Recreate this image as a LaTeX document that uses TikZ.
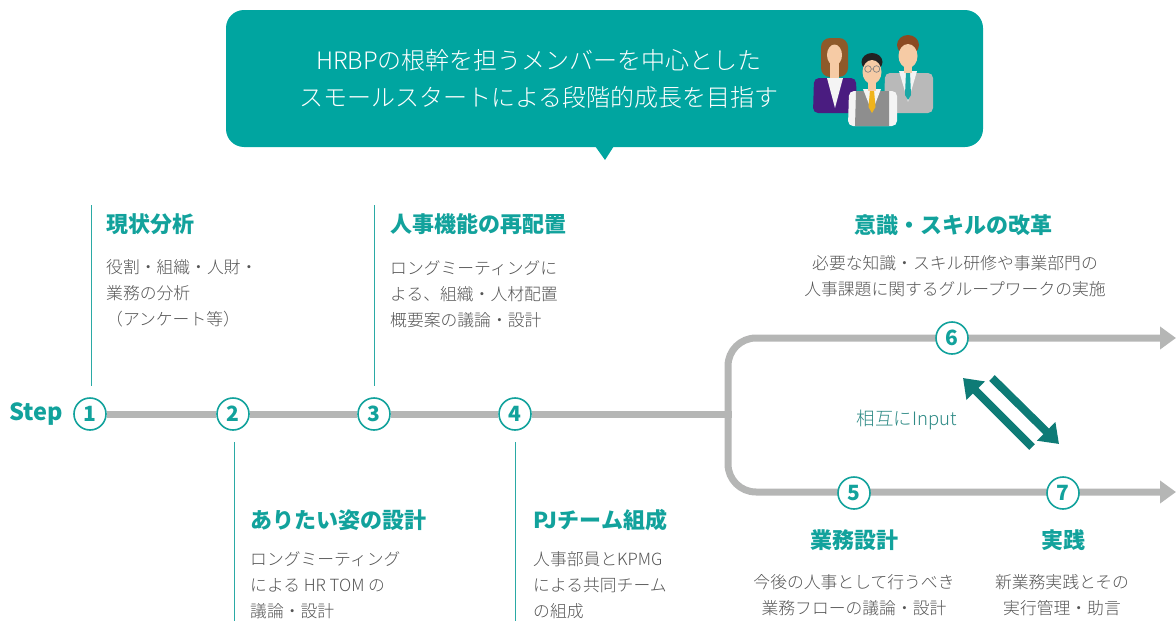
\documentclass[tikz,border=0pt]{standalone}
\usepackage{fontspec}
\setmainfont{Noto Sans CJK JP}
\newfontfamily\lightfont{Noto Sans CJK JP Light}
\usetikzlibrary{arrows.meta}

\definecolor{bubblec}{HTML}{00A5A0}
\definecolor{tealc}{HTML}{12A29C}
\definecolor{vlinec}{HTML}{2AAAA5}
\definecolor{darkteal}{HTML}{0E7B76}
\definecolor{inputc}{HTML}{2E8A85}
\definecolor{bodyc}{HTML}{555555}
\definecolor{railc}{HTML}{B5B6B5}
\definecolor{skin}{HTML}{F6CBA5}
\definecolor{hairbrown}{HTML}{8E5A2A}
\definecolor{hairred}{HTML}{8B4A22}
\definecolor{hairdark}{HTML}{222222}
\definecolor{purplejk}{HTML}{4A1C80}
\definecolor{vestc}{HTML}{8E8E8E}
\definecolor{suitc}{HTML}{B9B9B9}
\definecolor{shirtc}{HTML}{F4F4F4}
\definecolor{tiey}{HTML}{F0B41C}
\definecolor{tiet}{HTML}{1AA8A6}

\begin{document}
\begin{tikzpicture}[x=1pt,y=-1pt,
  stepnum/.style={circle, draw=tealc, line width=1.6pt, fill=white,
    minimum size=32pt, inner sep=0pt, text=tealc,
    font=\bfseries\fontsize{21}{21}\selectfont},
  heading/.style={inner sep=0pt, text=tealc, font=\bfseries\fontsize{22}{26}\selectfont},
  bodyl/.style={inner sep=0pt, text=bodyc, align=left, font=\lightfont\fontsize{16.8}{26}\selectfont},
  bodyc/.style={inner sep=0pt, text=bodyc, align=center, font=\lightfont\fontsize{16.8}{26}\selectfont},
  rail/.style={draw=railc, line width=7pt},
  vline/.style={draw=vlinec, line width=1pt},
  mutual/.style={draw=darkteal, line width=8pt, -{Triangle[length=18pt,width=25pt]}},
]
\useasboundingbox (0,0) rectangle (1176,621);

% speech bubble
\fill[bubblec, rounded corners=18pt] (226,10) rectangle (983,147);
\fill[bubblec] (595,146) -- (614,146) -- (605,160) -- cycle;
% (base anchor of a multi-line node = baseline of its last line)
\node[inner sep=0pt, text=white, align=center, anchor=base,
  font=\lightfont\fontsize{24}{37}\selectfont] (msg) at (539,106)
  {HRBPの根幹を担うメンバーを中心とした\\スモールスタートによる段階的成長を目指す};

% people: right man (back)
\fill[suitc, rounded corners=5pt] (884,113) -- (885,73) -- (933,73) -- (933,113) -- cycle;
\fill[shirtc] (899,71) -- (917,71) -- (908,102) -- cycle;
\fill[tiet] (906,72) -- (910,72) -- (911,95) -- (908,100) -- (905,95) -- cycle;
\fill[skin] (904,62) rectangle (912,73);
\fill[hairred] (908,45) ellipse [x radius=11, y radius=10];
\fill[skin] (908,56) ellipse [x radius=9.5, y radius=12];
% woman (left)
\fill[hairbrown, rounded corners=9pt] (821,38) rectangle (848,77);
\fill[skin] (830,62) rectangle (839,78);
\fill[skin] (834.5,55) ellipse [x radius=7.5, y radius=10.5];
\fill[purplejk, rounded corners=5pt] (813,113) -- (814,78) -- (856,78) -- (857,113) -- cycle;
\fill[shirtc] (827,78) -- (843,78) -- (835,108) -- cycle;
% middle man (front)
\fill[shirtc, rounded corners=5pt] (848,126) -- (849,91) -- (897,91) -- (897,126) -- cycle;
\fill[vestc] (855,126) -- (856,91) -- (889,91) -- (889,126) -- cycle;
\fill[shirtc] (863,89) -- (881,89) -- (872,112) -- cycle;
\fill[tiey] (870,90) -- (874,90) -- (875.5,107) -- (872,113) -- (868.5,107) -- cycle;
\fill[skin] (868,80) rectangle (876,91);
\fill[hairdark] (872,62) ellipse [x radius=10.5, y radius=9];
\fill[skin] (872,72) ellipse [x radius=9.5, y radius=12];
\draw[gray, line width=0.7pt] (868,69) circle (3.3) (876.5,69) circle (3.3) (871.3,69) -- (873.2,69);

% Step label
\node[inner sep=0pt, anchor=west, text=tealc, font=\bfseries\fontsize{23.5}{23.5}\selectfont] (steplbl) at (9,414) {Step};

% step circles on the main line
\node[stepnum] (c1) at (90,414) {1};
\node[stepnum] (c2) at (233,414) {2};
\node[stepnum] (c3) at (374,414) {3};
\node[stepnum] (c4) at (515,414) {4};
\coordinate (split) at (728,414);
\draw[rail] (c1) -- (c2);
\draw[rail] (c2) -- (c3);
\draw[rail] (c3) -- (c4);
\draw[rail] (c4) -- ([xshift=3.5pt]split);

% branching loop with two arrows
\coordinate (topend) at (1176,338);
\coordinate (botend) at (1176,492);
\draw[rail, rounded corners=28pt, {Triangle[length=16pt,width=22pt]}-{Triangle[length=16pt,width=22pt]}]
  (topend) -- (728,338) -- (728,492) -- (botend);

\node[stepnum] (c6) at (952,338) {6};
\node[stepnum] (c5) at (854,493) {5};
\node[stepnum] (c7) at (1063,493) {7};

% mutual input arrows
\coordinate (a1s) at (1032,447);
\coordinate (a1e) at (963,378);
\coordinate (a2s) at (992,378);
\coordinate (a2e) at (1059,444);
\draw[mutual] (a1s) -- (a1e);
\draw[mutual] (a2s) -- (a2e);
\node[inner sep=0pt, text=inputc, font=\lightfont\fontsize{18.5}{18.5}\selectfont] (inp) at (907,420) {相互にInput};

% leader lines
\draw[vline] (91,205) -- (91,386);
\draw[vline] (374,205) -- (374,386);
\draw[vline] (234,442) -- (234,621);
\draw[vline] (515,442) -- (515,621);

% step texts
\node[heading, anchor=base west] (h1) at (106,232) {現状分析};
\node[bodyl, anchor=base west] (b1) at (106,325) {役割・組織・人財・\\業務の分析\\（アンケート等）};

\node[heading, anchor=base west] (h3) at (390,232) {人事機能の再配置};
\node[bodyl, anchor=base west] (b3) at (390,326) {ロングミーティングに\\よる、組織・人材配置\\概要案の議論・設計};

\node[heading, anchor=base west] (h2) at (250,528) {ありたい姿の設計};
\node[bodyl, anchor=base west] (b2) at (250,617) {ロングミーティング\\による HR TOM の\\議論・設計};

\node[heading, anchor=base west] (h4) at (533,528) {PJチーム組成};
\node[bodyl, anchor=base west] (b4) at (533,617) {人事部員とKPMG\\による共同チーム\\の組成};

\node[heading, anchor=base] (h6) at (953,233) {意識・スキルの改革};
\node[bodyc, anchor=base] (b6) at (955,295) {必要な知識・スキル研修や事業部門の\\人事課題に関するグループワークの実施};

\node[heading, anchor=base] (h5) at (854,548) {業務設計};
\node[bodyc, anchor=base] (b5) at (854,614) {今後の人事として行うべき\\業務フローの議論・設計};

\node[heading, anchor=base] (h7) at (1063,548) {実践};
\node[bodyc, anchor=base] (b7) at (1062,614) {新業務実践とその\\実行管理・助言};
\end{tikzpicture}
\end{document}
